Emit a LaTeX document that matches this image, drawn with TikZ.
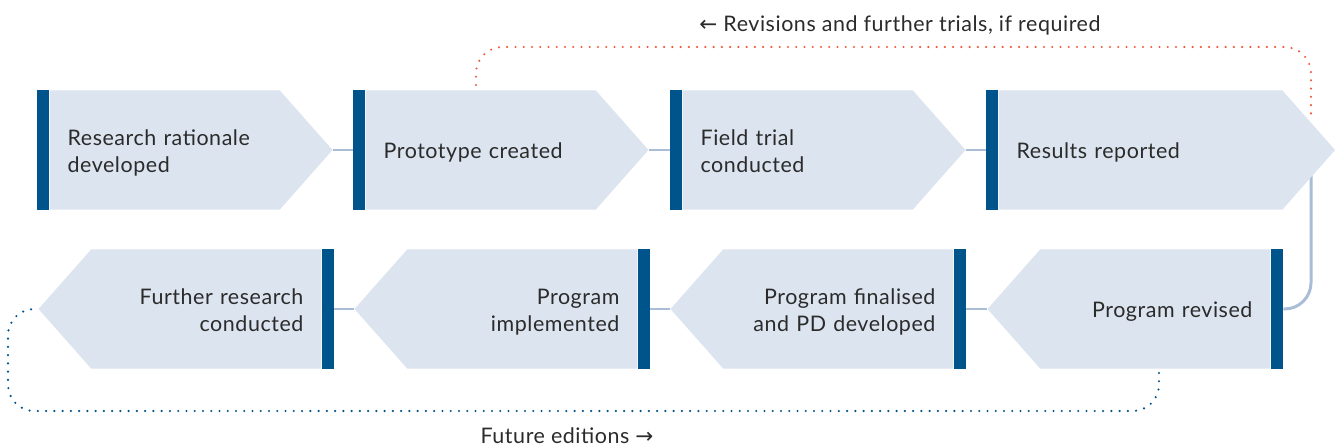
\documentclass[tikz,border=0pt]{standalone}
\usepackage{fontspec}
\setmainfont{Lato}[LetterSpace=2.6]
\newfontfamily\arrowfont{DejaVu Sans}
\usetikzlibrary{shapes.symbols,positioning,backgrounds}
\definecolor{barblue}{HTML}{00548C}
\definecolor{stagefill}{HTML}{DCE4EF}
\definecolor{linkblue}{HTML}{A9BDD6}
\definecolor{reviseorange}{HTML}{F05A3C}
\definecolor{inktext}{HTML}{2B2B2B}
\newcommand\stagefont{\fontsize{12.2}{15.3}\selectfont}
\tikzset{
  bar/.style={fill=barblue, minimum width=6.8pt, minimum height=68pt, inner sep=0pt},
  stage/.style={signal, signal pointer angle=97, fill=stagefill, minimum height=68pt,
    inner xsep=10.2pt, inner ysep=0pt, text=inktext, font=\stagefont,
    execute at begin node={\rule{0pt}{14pt}},
    execute at end node={\rule[-3.8pt]{0pt}{3.8pt}}},
  stage right/.style={stage, signal to=east, align=left},
  stage left/.style={stage, signal to=west, align=right},
  looplabel/.style={font=\stagefont, text=inktext, anchor=base, inner sep=0pt},
  link/.style={draw=linkblue, line width=1.7pt},
  dots/.style={line width=1.35pt, line cap=round, dash pattern=on 0pt off 4.7pt, rounded corners=15pt}
}
\begin{document}
\begin{tikzpicture}[x=0.02cm, y=-0.02cm]
  \useasboundingbox (0,0) rectangle (1335,446);
  % top row
  \node[bar] (b1) at (43,150) {};
  \node[stage right, text width=110.5pt, right=0pt of b1] (s1) {Research rationale\\developed};
  \node[bar] (b2) at (359,150) {};
  \node[stage right, text width=110.5pt, right=0pt of b2] (s2) {Prototype created};
  \node[bar] (b3) at (676,150) {};
  \node[stage right, text width=110.5pt, right=0pt of b3] (s3) {Field trial\\conducted};
  \node[bar] (b4) at (992,150) {};
  \node[stage right, text width=141pt, right=0pt of b4] (s4) {Results reported};
  % bottom row
  \node[bar] (b5) at (1277,309) {};
  \node[stage left, text width=110.5pt, left=0pt of b5] (s5) {Program revised};
  \node[bar] (b6) at (960,309) {};
  \node[stage left, text width=110.5pt, left=0pt of b6] (s6) {Program finalised\\and PD developed};
  \node[bar] (b7) at (644,309) {};
  \node[stage left, text width=110.5pt, left=0pt of b7] (s7) {Program\\implemented};
  \node[bar] (b8) at (328,309) {};
  \node[stage left, text width=110.5pt, left=0pt of b8] (s8) {Further research\\conducted};
  % loops
  \coordinate (revstart) at (476,85);
  \coordinate (revend) at (1311,118);
  \coordinate (futstart) at (1159,373);
  \node[looplabel] (revlabel) at (900,32) {{\arrowfont ←} Revisions and further trials, if required};
  \node[looplabel] (futlabel) at (567,443) {Future editions {\arrowfont →}};
  \begin{pgfonlayer}{background}
    \draw[link] (s1.east) -- (b2.west);
    \draw[link] (s2.east) -- (b3.west);
    \draw[link] (s3.east) -- (b4.west);
    \draw[link, rounded corners=15pt] (s4.east -| revend) |- (b5.east);
    \draw[link] (b6.east) -- (s5.west);
    \draw[link] (b7.east) -- (s6.west);
    \draw[link] (b8.east) -- (s7.west);
  \end{pgfonlayer}
  \draw[dots, reviseorange] (revstart) -- (476,47) -- (1311,47) -- (revend);
  \draw[dots, barblue] (futstart) |- (8,411) |- (s8.west);
\end{tikzpicture}
\end{document}
